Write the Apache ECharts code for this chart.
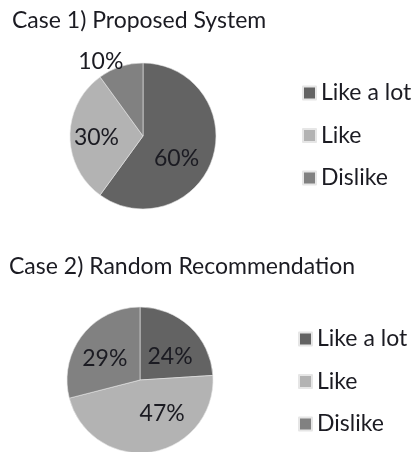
<!DOCTYPE html>
<html>
<head>
<meta charset="utf-8">
<script src="https://cdn.jsdelivr.net/npm/echarts@6/dist/echarts.min.js"></script>
<style>
  html, body { margin: 0; padding: 0; background: #fff; }
  #chart { width: 412px; height: 452px; }
</style>
</head>
<body>
<div id="chart"></div>
<script>
// 数据
const categories = ['Like a lot', 'Like', 'Dislike'];
const case1Values = [60, 30, 10];
const case2Values = [24, 47, 29];
const titles = ['Case 1) Proposed System', 'Case 2) Random Recommendation'];
const colors = ['#636363', '#b3b3b3', '#818181'];

const FONT = 'Lato';
const FS = 23;
const chart = echarts.init(document.getElementById('chart'));

// 标签位置微调（仿 Excel 的 best fit）
const labelOffsets1 = [[-4, 10], [-7, 2], [-30, -37]];
const labelOffsets2 = [[3, 5], [16, -5], [-4, 3]];

function buildData(values, offsets) {
    return values.map((v, i) => ({
        name: categories[i],
        value: v,
        label: { position: 'inside', offset: offsets[i] }
    }));
}

function makeSeries(values, center, offsets) {
    return {
        type: 'pie',
        center: center,
        radius: 73,
        startAngle: 90,
        clockwise: true,
        animation: false,
        silent: true,
        itemStyle: { borderColor: '#e6e6e6', borderWidth: 0.6 },
        label: {
            show: true,
            formatter: '{c}%',
            color: '#1b1b22',
            fontFamily: FONT,
            fontSize: FS
        },
        labelLine: { show: false },
        data: buildData(values, offsets)
    };
}

function makeLegend(left, top) {
    return {
        orient: 'vertical',
        left: left,
        top: top,
        padding: 0,
        icon: 'rect',
        itemWidth: 13,
        itemHeight: 13,
        itemGap: 18.5,
        selectedMode: false,
        data: categories,
        textStyle: { fontFamily: FONT, fontSize: FS, color: '#1b1b22', lineHeight: 24 }
    };
}

chart.setOption({
    color: colors,
    title: [
        { text: titles[0], left: 7, top: 4, textStyle: { fontFamily: FONT, fontSize: FS, fontWeight: 'normal', color: '#1b1b22' } },
        { text: titles[1], left: 4, top: 250, textStyle: { fontFamily: FONT, fontSize: FS, fontWeight: 'normal', color: '#1b1b22' } }
    ],
    legend: [makeLegend(302, 81), makeLegend(298, 327)],
    series: [
        makeSeries(case1Values, [143, 136], labelOffsets1),
        makeSeries(case2Values, [140, 380], labelOffsets2)
    ]
});
</script>
</body>
</html>
